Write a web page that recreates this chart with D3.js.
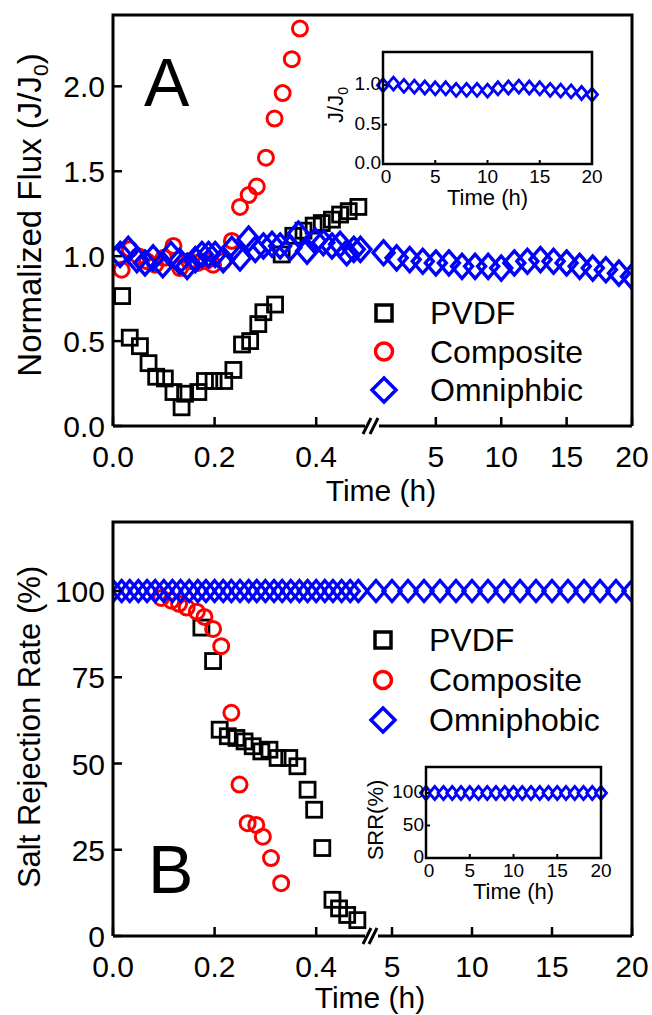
<!DOCTYPE html>
<html>
<head>
<meta charset="utf-8">
<script src="https://cdn.jsdelivr.net/npm/d3@7/dist/d3.min.js"></script>
<style>
  html, body { margin: 0; padding: 0; background: #fff; }
  svg { display: block; font-family: "Liberation Sans", Arial, sans-serif; }
</style>
</head>
<body>
<svg id="fig" width="652" height="1015"></svg>
<script>
// ---------- Panel A: normalized flux (J/J0) ----------
const fluxPvdfTime = [0.018,0.033,0.053,0.070,0.085,0.102,0.119,0.135,0.142,0.168,0.181,0.198,0.219,0.237,0.254,0.270,0.286,0.296,0.319,0.332,0.355,0.375,0.395,0.411,0.431,0.447,0.464,0.483];
const fluxPvdf     = [0.765,0.52,0.47,0.37,0.29,0.28,0.20,0.11,0.19,0.20,0.265,0.265,0.265,0.33,0.48,0.50,0.60,0.67,0.715,1.01,1.12,1.15,1.18,1.195,1.215,1.245,1.265,1.29];

const fluxCompTime = [0.017,0.033,0.050,0.067,0.083,0.100,0.119,0.132,0.150,0.167,0.183,0.197,0.217,0.234,0.250,0.267,0.283,0.301,0.318,0.334,0.352,0.368];
const fluxComp     = [0.92,1.04,1.00,0.97,0.95,0.99,1.06,0.93,0.97,0.96,0.97,0.95,0.97,1.09,1.29,1.36,1.41,1.58,1.81,1.96,2.16,2.34];

const fluxOmniTime = [0.014,0.030,0.047,0.063,0.079,0.098,0.114,0.131,0.146,0.162,0.175,0.188,0.201,0.217,0.234,0.250,0.267,0.280,0.296,0.313,0.329,0.349,0.365,0.382,0.398,0.414,0.431,0.447,0.460,0.474,0.487];
const fluxOmni     = [1.01,1.04,0.98,0.96,0.99,0.95,1.01,0.97,0.94,0.98,1.01,1.01,1.01,0.98,1.04,0.99,1.10,1.04,1.06,1.07,1.06,1.05,1.13,1.03,1.09,1.08,1.06,1.07,1.02,1.04,1.04];

// long-term omniphobic run (hours)
const longTime = [0,1,2,3,4,5,6,7,8,9,10,11,12,13,14,15,16,17,18,19,20];
const longFlux = [1.00,1.02,0.99,0.98,0.97,0.96,0.96,0.94,0.94,0.94,0.93,0.96,0.97,0.98,0.97,0.96,0.94,0.93,0.92,0.90,0.88];

// ---------- Panel B: salt rejection rate (%) ----------
const srrPvdfTime = [0.174,0.197,0.210,0.226,0.243,0.259,0.275,0.292,0.308,0.324,0.347,0.363,0.383,0.396,0.412,0.432,0.445,0.461,0.481];
const srrPvdf     = [89.4,79.7,59.8,57.9,57.4,56.4,55.0,53.5,54.0,51.6,51.6,49.2,42.4,36.6,25.5,10.5,8.0,6.1,4.6];

const srrCompTime = [0.095,0.115,0.130,0.145,0.165,0.180,0.197,0.213,0.233,0.249,0.265,0.282,0.295,0.311,0.331];
const srrComp     = [98.0,97.2,96.3,95.2,94.0,92.5,89.0,84.0,64.7,43.9,32.7,32.2,28.8,22.6,15.3];

const srrOmniTime = [0.000,0.017,0.033,0.050,0.067,0.083,0.100,0.117,0.133,0.150,0.167,0.183,0.200,0.217,0.233,0.250,0.267,0.283,0.300,0.317,0.333,0.350,0.367,0.383,0.400,0.417,0.433,0.450,0.467,0.483];
const srrOmni     = [100,100,100,100,100,100,100,100,100,100,100,100,100,100,100,100,100,100,100,100,100,100,100,100,100,100,100,100,100,100];
const srrLongTime = [0,1,2,3,4,5,6,7,8,9,10,11,12,13,14,15,16,17,18,19,20];
const srrLong     = [100,100,100,100,100,100,100,100,100,100,100,100,100,100,100,100,100,100,100,100,100];

// ---------- tick labels ----------
const xTicksShort = [0.0, 0.2, 0.4];
const xTicksLong  = [5, 10, 15, 20];
const yTicksFlux  = [0.0, 0.5, 1.0, 1.5, 2.0];
const yTicksSrr   = [0, 25, 50, 75, 100];
const insetFluxTicks = [0.0, 0.5, 1.0];
const insetSrrTicks  = [0, 50, 100];
const insetTimeTicks = [0, 5, 10, 15, 20];
const seriesNames = ["PVDF", "Composite"];
const omniNameA = "Omniphbic";
const omniNameB = "Omniphobic";

const RED = "#ff0000", BLUE = "#0000ff", BLACK = "#000000";
const svg = d3.select("#fig");

// ---------- marker helpers ----------
function squares(g, xs, ys, tArr, vArr, size, sw) {
  g.selectAll(null).data(tArr.map((t, i) => [t, vArr[i]])).join("rect")
    .attr("x", d => xs(d[0]) - size / 2).attr("y", d => ys(d[1]) - size / 2)
    .attr("width", size).attr("height", size)
    .attr("fill", "none").attr("stroke", BLACK).attr("stroke-width", sw);
}
function circles(g, xs, ys, tArr, vArr, r, sw) {
  g.selectAll(null).data(tArr.map((t, i) => [t, vArr[i]])).join("circle")
    .attr("cx", d => xs(d[0])).attr("cy", d => ys(d[1])).attr("r", r)
    .attr("fill", "none").attr("stroke", RED).attr("stroke-width", sw);
}
function diamonds(g, xs, ys, tArr, vArr, hw, hh, sw, fill) {
  g.selectAll(null).data(tArr.map((t, i) => [t, vArr[i]])).join("path")
    .attr("d", d => {
      const x = xs(d[0]), y = ys(d[1]);
      return `M${x},${y - hh}L${x + hw},${y}L${x},${y + hh}L${x - hw},${y}Z`;
    })
    .attr("fill", fill || "none").attr("stroke", BLUE).attr("stroke-width", sw)
    .attr("stroke-linejoin", "miter");
}

// ---------- broken-axis panel ----------
function panel(cfg) {
  const g = svg.append("g");
  const { left, right, top, bottom, x1, x2, y } = cfg;
  const clipId = "clip" + cfg.letter;
  svg.append("clipPath").attr("id", clipId).append("rect")
    .attr("x", left).attr("y", top).attr("width", right - left).attr("height", bottom - top);

  const data = g.append("g").attr("clip-path", `url(#${clipId})`);
  cfg.draw(data);

  // frame: left, top, right spines and broken bottom axis
  const fr = g.append("g").attr("stroke", BLACK).attr("stroke-width", 3).attr("fill", "none");
  fr.append("path").attr("d", `M${left},${bottom}V${top}H${right}V${bottom}`);
  const bx0 = x1.range()[1], bx1 = x2.range()[0];
  fr.append("line").attr("x1", left).attr("x2", bx0 - 2).attr("y1", bottom).attr("y2", bottom);
  fr.append("line").attr("x1", bx1 + 2).attr("x2", right).attr("y1", bottom).attr("y2", bottom);
  [bx0 - 1, bx1 - 4].forEach(bx => {
    fr.append("line").attr("x1", bx - 3).attr("y1", bottom + 8).attr("x2", bx + 5).attr("y2", bottom - 8);
  });

  // ticks (inward)
  const tk = g.append("g").attr("stroke", BLACK).attr("stroke-width", 2.5);
  cfg.xTicks1.forEach(v => tk.append("line").attr("x1", x1(v)).attr("x2", x1(v)).attr("y1", bottom).attr("y2", bottom - 9));
  cfg.xTicks2.forEach(v => tk.append("line").attr("x1", x2(v)).attr("x2", x2(v)).attr("y1", bottom).attr("y2", bottom - 9));
  cfg.yTicks.forEach(v => tk.append("line").attr("x1", left).attr("x2", left + 9).attr("y1", y(v)).attr("y2", y(v)));

  // tick labels
  const lab = g.append("g").attr("font-size", 30).attr("fill", BLACK);
  cfg.xTicks1.forEach(v => lab.append("text").attr("x", x1(v)).attr("y", bottom + 41)
    .attr("text-anchor", "middle").text(d3.format(".1f")(v)));
  cfg.xTicks2.forEach(v => lab.append("text").attr("x", x2(v)).attr("y", bottom + 41)
    .attr("text-anchor", "middle").text(v));
  cfg.yTicks.forEach(v => lab.append("text").attr("x", left - 8).attr("y", y(v) + 11)
    .attr("text-anchor", "end").text(cfg.yFmt(v)));

  // axis titles
  g.append("text").attr("x", cfg.xTitleX).attr("y", cfg.xTitleY).attr("text-anchor", "middle")
    .attr("font-size", 30).text("Time (h)");
  cfg.yTitle(g);

  // panel letter
  g.append("text").attr("x", cfg.letterX).attr("y", cfg.letterY).attr("font-size", 68).text(cfg.letter);

  // legend
  const lg = g.append("g");
  const [lx, ly0, dy] = cfg.legend;
  lg.append("rect").attr("x", lx - 8).attr("y", ly0 - 8).attr("width", 16).attr("height", 16)
    .attr("fill", "none").attr("stroke", BLACK).attr("stroke-width", 3.5);
  lg.append("circle").attr("cx", lx).attr("cy", ly0 + dy).attr("r", 8.5)
    .attr("fill", "none").attr("stroke", RED).attr("stroke-width", 3.5);
  lg.append("path").attr("d", `M${lx},${ly0 + 2 * dy - 12}L${lx + 12},${ly0 + 2 * dy}L${lx},${ly0 + 2 * dy + 12}L${lx - 12},${ly0 + 2 * dy}Z`)
    .attr("fill", "none").attr("stroke", BLUE).attr("stroke-width", 3.5);
  [seriesNames[0], seriesNames[1], cfg.omniName].forEach((s, i) => {
    lg.append("text").attr("x", lx + 46).attr("y", ly0 + i * dy + 11).attr("font-size", 32).text(s);
  });
  return g;
}

// ---------- inset ----------
function inset(cfg) {
  const g = svg.append("g");
  const { left, right, top, bottom, x, y } = cfg;
  diamonds(g, x, y, cfg.t, cfg.v, 5.5, 6.5, 2.8, "#fff");
  g.append("rect").attr("x", left).attr("y", top).attr("width", right - left).attr("height", bottom - top)
    .attr("fill", "none").attr("stroke", BLACK).attr("stroke-width", 2.5);
  const tk = g.append("g").attr("stroke", BLACK).attr("stroke-width", 2);
  insetTimeTicks.forEach(v => tk.append("line").attr("x1", x(v)).attr("x2", x(v)).attr("y1", bottom).attr("y2", bottom - 4));
  cfg.yTicks.forEach(v => tk.append("line").attr("x1", left).attr("x2", left + 4).attr("y1", y(v)).attr("y2", y(v)));
  const lab = g.append("g").attr("font-size", 19);
  insetTimeTicks.forEach(v => lab.append("text").attr("x", x(v) + (v === 0 ? 3 : 0)).attr("y", bottom + 19).attr("text-anchor", "middle").text(v));
  cfg.yTicks.forEach(v => lab.append("text").attr("x", left - 2).attr("y", y(v) + 5).attr("text-anchor", "end").text(cfg.yFmt(v)));
  g.append("text").attr("x", (left + right) / 2).attr("y", bottom + 41).attr("text-anchor", "middle")
    .attr("font-size", 22).text("Time (h)");
  cfg.yTitle(g);
}

// ===== Panel A =====
const A = { left: 113, right: 632, top: 15, bottom: 426 };
A.x1 = d3.scaleLinear().domain([0, 0.5]).range([A.left, 367]);
A.x2 = d3.scaleLinear().domain([0.5, 20]).range([377, A.right]);
A.y  = d3.scaleLinear().domain([0, 2.42]).range([A.bottom, A.top]);
panel(Object.assign(A, {
  letter: "A", letterX: 144, letterY: 106,
  xTicks1: xTicksShort, xTicks2: xTicksLong, yTicks: yTicksFlux,
  yFmt: d3.format(".1f"), xTitleX: 381, xTitleY: 501, omniName: omniNameA,
  legend: [384, 313, 38.5],
  yTitle: g => {
    const t = g.append("text").attr("transform", "translate(41,215) rotate(-90)")
      .attr("text-anchor", "middle").attr("font-size", 33);
    t.append("tspan").text("Normalized Flux (J/J");
    t.append("tspan").attr("font-size", 21).attr("dy", 7).text("0");
    t.append("tspan").attr("dy", -7).text(")");
  },
  draw: d => {
    squares(d, A.x1, A.y, fluxPvdfTime, fluxPvdf, 15, 2.8);
    circles(d, A.x1, A.y, fluxCompTime, fluxComp, 7.5, 3);
    diamonds(d, A.x1, A.y, fluxOmniTime, fluxOmni, 10.5, 12, 3.4);
    diamonds(d, A.x2, A.y, longTime.slice(1), longFlux.slice(1), 10.5, 12, 3.4);
  }
}));

inset({
  left: 383, right: 592, top: 52, bottom: 164,
  x: d3.scaleLinear().domain([0, 20]).range([383, 592]),
  y: d3.scaleLinear().domain([0, 1.42]).range([164, 52]),
  t: longTime, v: longFlux, yTicks: insetFluxTicks, yFmt: d3.format(".1f"),
  yTitle: g => {
    const t = g.append("text").attr("transform", "translate(343,105) rotate(-90)")
      .attr("text-anchor", "middle").attr("font-size", 22);
    t.append("tspan").text("J/J");
    t.append("tspan").attr("font-size", 14).attr("dy", 5).text("0");
  }
});

// ===== Panel B =====
const B = { left: 113, right: 632, top: 522, bottom: 936 };
B.x1 = d3.scaleLinear().domain([0, 0.5]).range([B.left, 367]);
B.x2 = d3.scaleLinear().domain([4, 20]).range([376, B.right]);
B.y  = d3.scaleLinear().domain([0, 120]).range([B.bottom, B.top]);
panel(Object.assign(B, {
  letter: "B", letterX: 148, letterY: 893,
  xTicks1: xTicksShort, xTicks2: xTicksLong, yTicks: yTicksSrr,
  yFmt: d3.format("d"), xTitleX: 370, xTitleY: 1008, omniName: omniNameB,
  legend: [383, 640, 40],
  yTitle: g => {
    g.append("text").attr("transform", "translate(40,727) rotate(-90)")
      .attr("text-anchor", "middle").attr("font-size", 31).text("Salt Rejection Rate (%)");
  },
  draw: d => {
    squares(d, B.x1, B.y, srrPvdfTime, srrPvdf, 15, 2.8);
    circles(d, B.x1, B.y, srrCompTime, srrComp, 7.5, 3);
    diamonds(d, B.x1, B.y, srrOmniTime, srrOmni, 9, 10.5, 3.4);
    diamonds(d, B.x2, B.y, srrLongTime.slice(4), srrLong.slice(4), 9, 10.5, 3.4);
  }
}));

inset({
  left: 426, right: 601, top: 767, bottom: 858,
  x: d3.scaleLinear().domain([0, 20]).range([426, 601]),
  y: d3.scaleLinear().domain([0, 140]).range([858, 767]),
  t: srrLongTime, v: srrLong, yTicks: insetSrrTicks, yFmt: d3.format("d"),
  yTitle: g => {
    g.append("text").attr("transform", "translate(383,820) rotate(-90)")
      .attr("text-anchor", "middle").attr("font-size", 22).text("SRR(%)");
  }
});
</script>
</body>
</html>
